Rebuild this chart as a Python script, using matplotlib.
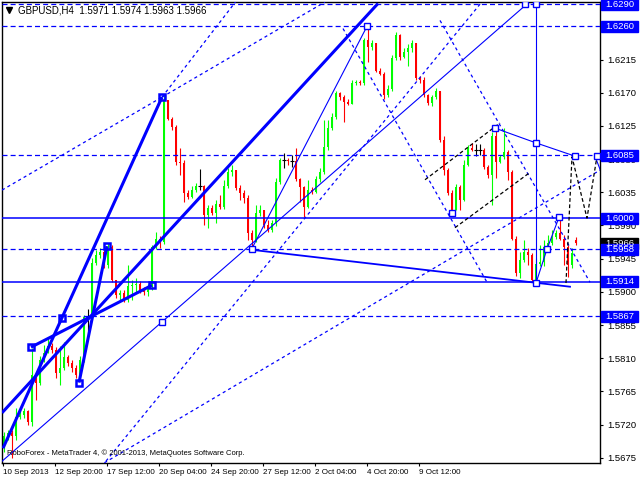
import matplotlib
matplotlib.use('Agg')
import matplotlib.pyplot as plt
from matplotlib.patches import Rectangle

plt.rcParams['font.family'] = ['Liberation Sans', 'DejaVu Sans']
plt.rcParams['font.size'] = 6.5

# GBPUSD H4 candles
first_open = 1.5690
closes = [
    1.5704, 1.5709, 1.5704, 1.5731, 1.5733, 1.5739, 1.5724, 1.5787, 1.5777, 1.5808,
    1.5817, 1.5827, 1.5821, 1.5790, 1.5797, 1.5812, 1.5804, 1.5797, 1.5787, 1.5808,
    1.5866, 1.5866, 1.5939, 1.5950, 1.5954, 1.5936, 1.5961, 1.5916, 1.5896, 1.5899,
    1.5889, 1.5908, 1.5909, 1.5911, 1.5903, 1.5900, 1.5908, 1.5961, 1.5972, 1.5968,
    1.6160, 1.6135, 1.6123, 1.6076, 1.6075, 1.6034, 1.6028, 1.6038, 1.6043, 1.6043,
    1.6004, 1.6014, 1.6007, 1.6019, 1.6015, 1.6043, 1.6062, 1.6065, 1.6041, 1.6034,
    1.6027, 1.5980, 1.5970, 1.6007, 1.6011, 1.5990, 1.5984, 1.5993, 1.6049, 1.6079,
    1.6079, 1.6077, 1.6077, 1.6053, 1.6042, 1.6015, 1.6038, 1.6035, 1.6053, 1.6062,
    1.6096, 1.6122, 1.6137, 1.6169, 1.6164, 1.6157, 1.6155, 1.6183, 1.6184, 1.6183,
    1.6241, 1.6232, 1.6237, 1.6200, 1.6196, 1.6167, 1.6175, 1.6217, 1.6248, 1.6218,
    1.6225, 1.6230, 1.6237, 1.6190, 1.6187, 1.6167, 1.6156, 1.6164, 1.6172, 1.6106,
    1.6065, 1.6034, 1.6011, 1.6042, 1.6024, 1.6072, 1.6095, 1.6092, 1.6092, 1.6092,
    1.6069, 1.6058, 1.6112, 1.6076, 1.6083, 1.6089, 1.6062, 1.5972, 1.5926, 1.5943,
    1.5954, 1.5950, 1.5916, 1.5938, 1.5940, 1.5961, 1.5966, 1.5974, 1.5980, 1.5972,
    1.5961, 1.5936, 1.5953, 1.5966]
highs = [
    1.5710, 1.5713, 1.5713, 1.5743, 1.5740, 1.5743, 1.5740, 1.5824, 1.5790, 1.5813,
    1.5828, 1.5839, 1.5831, 1.5825, 1.5827, 1.5832, 1.5815, 1.5808, 1.5801, 1.5813,
    1.5869, 1.5877, 1.5946, 1.5957, 1.5959, 1.5957, 1.5966, 1.5964, 1.5916, 1.5903,
    1.5903, 1.5936, 1.5916, 1.5919, 1.5915, 1.5907, 1.5911, 1.5964, 1.5981, 1.5976,
    1.6167, 1.6160, 1.6137, 1.6126, 1.6095, 1.6079, 1.6038, 1.6043, 1.6047, 1.6066,
    1.6045, 1.6018, 1.6018, 1.6024, 1.6031, 1.6051, 1.6068, 1.6072, 1.6065, 1.6045,
    1.6038, 1.6031, 1.5984, 1.6018, 1.6018, 1.6011, 1.5997, 1.5997, 1.6054, 1.6081,
    1.6088, 1.6081, 1.6085, 1.6095, 1.6055, 1.6044, 1.6051, 1.6042, 1.6057, 1.6068,
    1.6133, 1.6133, 1.6142, 1.6173, 1.6171, 1.6167, 1.6161, 1.6187, 1.6187, 1.6187,
    1.6244, 1.6261, 1.6241, 1.6238, 1.6203, 1.6198, 1.6180, 1.6221, 1.6252, 1.6250,
    1.6230, 1.6236, 1.6241, 1.6238, 1.6192, 1.6191, 1.6168, 1.6167, 1.6176, 1.6173,
    1.6112, 1.6068, 1.6038, 1.6046, 1.6045, 1.6079, 1.6099, 1.6102, 1.6100, 1.6100,
    1.6095, 1.6072, 1.6117, 1.6122, 1.6085, 1.6122, 1.6093, 1.6065, 1.5976, 1.5954,
    1.5970, 1.5959, 1.5953, 1.5946, 1.5964, 1.5970, 1.5977, 1.5984, 1.5984, 1.6000,
    1.5977, 1.5964, 1.5959, 1.5974]
lows = [
    1.5683, 1.5699, 1.5675, 1.5699, 1.5727, 1.5729, 1.5720, 1.5718, 1.5754, 1.5774,
    1.5805, 1.5819, 1.5817, 1.5783, 1.5774, 1.5794, 1.5800, 1.5792, 1.5783, 1.5783,
    1.5805, 1.5839, 1.5862, 1.5936, 1.5946, 1.5932, 1.5932, 1.5913, 1.5892, 1.5889,
    1.5886, 1.5886, 1.5889, 1.5900, 1.5899, 1.5896, 1.5894, 1.5903, 1.5958, 1.5959,
    1.5965, 1.6133, 1.6119, 1.6072, 1.6058, 1.6022, 1.6026, 1.6027, 1.6035, 1.6038,
    1.5990, 1.5987, 1.6004, 1.5993, 1.6012, 1.6012, 1.6041, 1.6057, 1.6038, 1.6024,
    1.6020, 1.5970, 1.5961, 1.5968, 1.6003, 1.5987, 1.5981, 1.5981, 1.5989, 1.6046,
    1.6068, 1.6072, 1.6069, 1.6050, 1.6022, 1.6001, 1.6014, 1.6033, 1.6034, 1.6049,
    1.6060, 1.6092, 1.6119, 1.6135, 1.6160, 1.6130, 1.6153, 1.6155, 1.6180, 1.6180,
    1.6180, 1.6211, 1.6228, 1.6198, 1.6194, 1.6162, 1.6164, 1.6172, 1.6214, 1.6214,
    1.6217, 1.6206, 1.6225, 1.6187, 1.6183, 1.6164, 1.6153, 1.6152, 1.6161, 1.6103,
    1.6058, 1.6031, 1.6004, 1.6011, 1.6011, 1.6023, 1.6070, 1.6091, 1.6084, 1.6085,
    1.6066, 1.6055, 1.6018, 1.6054, 1.6075, 1.6080, 1.6051, 1.5970, 1.5921, 1.5919,
    1.5941, 1.5936, 1.5913, 1.5912, 1.5935, 1.5935, 1.5957, 1.5964, 1.5972, 1.5970,
    1.5936, 1.5920, 1.5932, 1.5963]
open_gaps = {143: 1.5971}

time_labels = ['10 Sep 2013', '12 Sep 20:00', '17 Sep 12:00', '20 Sep 04:00',
               '24 Sep 20:00', '27 Sep 12:00', '2 Oct 04:00', '4 Oct 20:00', '9 Oct 12:00']
bars_per_label = 13

price_ticks = [1.5675, 1.5720, 1.5765, 1.5810, 1.5855, 1.5900, 1.5945, 1.5990,
               1.6035, 1.6080, 1.6125, 1.6170, 1.6215, 1.6260]
dashed_levels = [1.6290, 1.6260, 1.6085, 1.5958, 1.5867]
solid_levels = [1.6000, 1.5914]
bid = 1.5966

# analysis objects: (bar, price) anchor points
thick_lines = [
    [(-0.5, 1.5736), (93.5, 1.6291)],
    [(-0.25, 1.5688), (14.5, 1.5865), (39.5, 1.6164)],
    [(6.75, 1.5825), (37.0, 1.5909)],
    [(18.75, 1.5777), (25.75, 1.5962)],
]
thick_marks = [(6.75, 1.5825), (14.5, 1.5865), (18.75, 1.5777), (25.75, 1.5962),
               (37.0, 1.5909), (39.5, 1.6164)]
thin_lines = [
    [(-1.0, 1.5668), (130.25, 1.6288)],
    [(62.0, 1.5959), (90.75, 1.6260)],
    [(122.75, 1.6122), (133.0, 1.6102), (142.75, 1.6084)],
    [(147.75, 1.6084), (150.5, 1.6045)],
    [(133.0, 1.6290), (133.0, 1.5912)],
    [(133.0, 1.5912), (135.75, 1.5958), (138.75, 1.6001)],
]
mid_lines = [
    [(62.0, 1.5957), (141.5, 1.5907)],
]
thin_marks = [(39.5, 1.5859), (62.0, 1.5958), (90.75, 1.6260), (130.25, 1.6290),
              (133.0, 1.6290), (122.75, 1.6122), (133.0, 1.6102), (142.75, 1.6084),
              (148.25, 1.6084), (133.0, 1.5912), (135.75, 1.5958), (138.75, 1.6001),
              (112.0, 1.6007)]
dotted_lines = [
    [(-0.5, 1.6038), (39.5, 1.6164)],
    [(39.5, 1.6164), (59.0, 1.6301)],
    [(39.5, 1.6164), (80.25, 1.6293)],
    [(84.75, 1.6257), (120.75, 1.5913)],
    [(109.0, 1.6268), (146.5, 1.5913)],
    [(24.5, 1.5664), (119.75, 1.6295)],
    [(23.75, 1.5664), (149.0, 1.6065)],
]
black_dashed = [
    [(105.25, 1.6052), (124.0, 1.6129)],
    [(112.75, 1.5987), (131.5, 1.6062)],
    [(140.5, 1.5912), (142.0, 1.6083), (145.75, 1.6000), (148.25, 1.6084)],
]

W, H = 640, 480
BLUE = '#0000ff'
GREEN = '#00ff00'
RED = '#ff0000'

fig = plt.figure(figsize=(W / 100, H / 100), dpi=100)
ax = fig.add_axes([2 / W, 1 - 463 / H, 598 / W, 461 / H])
ax.set_xlim(-0.5, 149)
ax.set_ylim(1.5668, 1.6293)

# candles
opens = [first_open] + closes[:-1]
for k, v in open_gaps.items():
    opens[k] = v
for i, c in enumerate(closes):
    o = opens[i]
    hi = max(highs[i], o, c)
    lo = min(lows[i], o, c)
    col = GREEN if c > o else (RED if c < o else 'black')
    ax.vlines(i, lo, hi, color=col, lw=0.8, zorder=2)
    if c == o:
        ax.hlines(c, i - 0.4, i + 0.4, color='black', lw=0.8, zorder=2)
    else:
        ax.bar(i, c - o, bottom=o, width=0.72, color=col, lw=0, zorder=2)

# horizontal levels
for p in dashed_levels:
    ax.axhline(p, color=BLUE, lw=0.9, ls=(0, (4, 2.5)), zorder=3)
for p in solid_levels:
    ax.axhline(p, color=BLUE, lw=1.1, zorder=3)

def draw(pts, **kw):
    xs, ys = zip(*pts)
    ax.plot(xs, ys, color=kw.pop('color', BLUE), zorder=4, **kw)

for ln in thick_lines:
    draw(ln, lw=2.2, solid_capstyle='butt')
for ln in thin_lines:
    draw(ln, lw=0.8)
for ln in mid_lines:
    draw(ln, lw=1.3)
for ln in dotted_lines:
    draw(ln, lw=0.9, ls=(0, (2.5, 2.5)))
for ln in black_dashed:
    draw(ln, lw=0.9, ls=(0, (3, 2)), color='black')

mx, my = zip(*thick_marks)
ax.plot(mx, my, ls='none', marker='s', ms=5, mfc='none', mec=BLUE, mew=1.8, zorder=5)
mx, my = zip(*thin_marks)
ax.plot(mx, my, ls='none', marker='s', ms=4.5, mfc='white', mec=BLUE, mew=1.0, zorder=5)

# axes styling
for s in ax.spines.values():
    s.set_color('black')
    s.set_linewidth(1)
ax.yaxis.tick_right()
ax.set_yticks(price_ticks)
ax.set_yticklabels([f'{p:.4f}' for p in price_ticks])
ax.tick_params(axis='y', direction='out', length=2.5, width=0.8, pad=2.5, labelsize=6.8)
xt = [k * bars_per_label - 0.25 for k in range(len(time_labels))]
ax.set_xticks(xt)
ax.set_xticklabels(time_labels, ha='left')
ax.tick_params(axis='x', direction='out', length=2.5, width=0.8, pad=1.5, labelsize=5.8)

# price boxes on the right axis
ytr = ax.get_yaxis_transform()
box_h = 11 * (1.6293 - 1.5668) / 461
def price_box(p, fc):
    ax.add_patch(Rectangle((1.0017, p - box_h / 2), 37 / 598, box_h, transform=ytr,
                           fc=fc, ec=fc, clip_on=False, zorder=6))
    ax.text(1.0085, p, f'{p:.4f}', transform=ytr, color='white', va='center',
            ha='left', fontsize=6.8, clip_on=False, zorder=7)

price_box(bid, 'black')
for p in dashed_levels + solid_levels:
    price_box(p, BLUE)

# header and footer texts
ax.plot([0.012], [0.982], transform=ax.transAxes, marker='v', ms=5, color='black',
        clip_on=False, zorder=8)
ax.text(0.027, 0.982, 'GBPUSD,H4  1.5971 1.5974 1.5963 1.5966', transform=ax.transAxes,
        va='center', ha='left', fontsize=7, color='black', zorder=8)
ax.text(0.008, 0.022, 'RoboForex - MetaTrader 4, \u00a9 2001-2013, MetaQuotes Software Corp.',
        transform=ax.transAxes, va='center', ha='left', fontsize=5.5, color='black', zorder=8)

fig.savefig('out.png', dpi=100, facecolor='white')
